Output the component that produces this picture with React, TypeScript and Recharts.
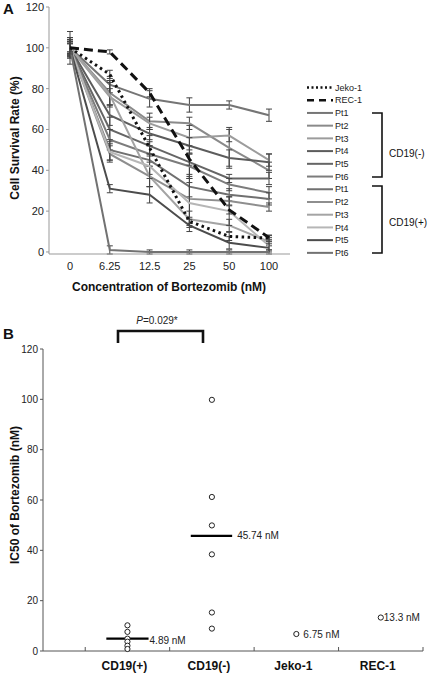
import React from 'react';
import {
  LineChart, Line, XAxis, YAxis, ErrorBar,
  ScatterChart, Scatter, ReferenceLine, ReferenceDot,
} from 'recharts';

// ---------- Panel A data ----------
const concentrations = ['0', '6.25', '12.5', '25', '50', '100'];
const seriesNames = ['Jeko-1', 'REC-1', 'Pt1', 'Pt2', 'Pt3', 'Pt4', 'Pt5', 'Pt6', 'Pt1', 'Pt2', 'Pt3', 'Pt4', 'Pt5', 'Pt6'];

const jeko1 = [100, 87, 51, 15, 7.6, 6.8];
const rec1 = [100, 98, 78, 45.5, 20.6, 7];
const negPt1 = [100, 82, 75, 72, 72, 67];
const negPt2 = [100, 78, 64, 63, 51, 40];
const negPt3 = [100, 76, 63, 56, 57, 45];
const negPt4 = [100, 67, 58, 52, 46, 44];
const negPt5 = [100, 60, 52, 44, 36, 36];
const negPt6 = [100, 55, 48, 42, 33, 29];
const posPt1 = [100, 50, 45, 32, 28, 26];
const posPt2 = [100, 48, 37, 26, 25, 22];
const posPt3 = [100, 77, 37, 16, 13, 5];
const posPt4 = [100, 49, 42, 24, 20, 3];
const posPt5 = [100, 31, 28, 13, 4.5, 2];
const posPt6 = [100, 1, 0, 0, 0, 0];

const errJeko1 = [3, 2, 3, 2, 2, 1.5];
const errRec1 = [2, 1, 2, 3, 2, 1];
const errNegPt1 = [4, 4, 4, 3.5, 2, 3];
const errNegPt2 = [3, 6, 4, 3, 10, 4];
const errNegPt3 = [5, 4, 3, 6, 3, 3];
const errNegPt4 = [3, 5, 3, 4, 4, 4];
const errNegPt5 = [4, 6, 5, 8, 2, 3];
const errNegPt6 = [5, 5, 4, 6, 3, 3];
const errPosPt1 = [4, 5, 7, 5, 3, 3];
const errPosPt2 = [3, 4, 5, 12, 2, 2];
const errPosPt3 = [8, 6, 5, 4, 3, 2];
const errPosPt4 = [3, 4, 6, 10, 7, 2];
const errPosPt5 = [4, 2, 4, 3, 3, 2];
const errPosPt6 = [2, 2, 1, 1, 1, 1];

const survivalSeries = [jeko1, rec1, negPt1, negPt2, negPt3, negPt4, negPt5, negPt6, posPt1, posPt2, posPt3, posPt4, posPt5, posPt6];
const survivalErrors = [errJeko1, errRec1, errNegPt1, errNegPt2, errNegPt3, errNegPt4, errNegPt5, errNegPt6, errPosPt1, errPosPt2, errPosPt3, errPosPt4, errPosPt5, errPosPt6];
const yTicksA = [0, 20, 40, 60, 80, 100, 120];

// ---------- Panel B data ----------
const groupLabels = ['CD19(+)', 'CD19(-)', 'Jeko-1', 'REC-1'];
const cd19PosIC50 = [10.2, 7.6, 4.9, 3.7, 2.1, 0.8];
const cd19NegIC50 = [99.8, 61.2, 49.9, 38.4, 15.3, 8.9];
const jekoIC50 = [6.75];
const recIC50 = [13.3];
const groupMeans = [4.89, 45.74];
const meanLabels = ['4.89 nM', '45.74 nM'];
const cellLineLabels = ['6.75 nM', '13.3 nM'];
const yTicksB = [0, 20, 40, 60, 80, 100, 120];
const pValueText = '=0.029*';

// ---------- styles ----------
const FONT = '"Liberation Sans", Arial, sans-serif';
const lineStyles = [
  { stroke: '#111', width: 3, dash: '2.5 3.5' },
  { stroke: '#111', width: 3, dash: '9 5' },
  { stroke: '#757575', width: 2, dash: undefined },
  { stroke: '#8a8a8a', width: 2, dash: undefined },
  { stroke: '#9c9c9c', width: 2, dash: undefined },
  { stroke: '#5c5c5c', width: 2, dash: undefined },
  { stroke: '#656565', width: 2, dash: undefined },
  { stroke: '#7c7c7c', width: 2, dash: undefined },
  { stroke: '#707070', width: 2, dash: undefined },
  { stroke: '#8e8e8e', width: 2, dash: undefined },
  { stroke: '#a4a4a4', width: 2, dash: undefined },
  { stroke: '#b6b6b6', width: 2, dash: undefined },
  { stroke: '#4c4c4c', width: 2, dash: undefined },
  { stroke: '#727272', width: 2, dash: undefined },
];

const lineData = concentrations.map((c, i) => {
  const row: Record<string, number | string> = { conc: c };
  survivalSeries.forEach((s, k) => {
    row[`s${k}`] = s[i];
    row[`e${k}`] = survivalErrors[k][i];
  });
  return row;
});

const toPoints = (vals: number[], x: number) => vals.map((y) => ({ x, y }));
const scatterGroups = [
  toPoints(cd19PosIC50, 1),
  toPoints(cd19NegIC50, 2),
  toPoints(jekoIC50, 3),
  toPoints(recIC50, 4),
];

const OpenCircle = (props: any) => (
  <circle cx={props.cx} cy={props.cy} r={2.6} fill="#fff" stroke="#222" strokeWidth={1} />
);

const BTick = (props: any) => {
  const { x, y, payload } = props;
  const v = payload.value;
  if (Number.isInteger(v)) {
    return (
      <text x={x - 3} y={y} dy="0.71em" textAnchor="middle" fontSize={12} fontWeight="bold" fill="#111" fontFamily={FONT}>
        {groupLabels[v - 1]}
      </text>
    );
  }
  return <line x1={x} x2={x} y1={y - 10} y2={y - 14} stroke="#555" strokeWidth={1} />;
};

const order = [2, 3, 4, 5, 6, 7, 8, 9, 10, 11, 12, 13, 0, 1];
const legendY0 = 87.5;
const legendStep = 12.72;

export default function App() {
  return (
    <div style={{ position: 'absolute', left: 0, top: 0, width: 438, height: 675, background: '#fff', fontFamily: FONT }}>
      <div style={{ position: 'absolute', left: 0, top: 0 }}>
        <LineChart width={438} height={300} data={lineData} margin={{ top: 7, right: 148, bottom: 16, left: 0 }}>
          <XAxis
            dataKey="conc"
            interval={0}
            tickLine={false}
            padding={{ left: 21, right: 21 }}
            axisLine={{ stroke: '#999' }}
            tick={{ fontSize: 11, fill: '#222', fontFamily: FONT }}
            height={30}
          />
          <YAxis
            domain={[0, 120]}
            ticks={yTicksA}
            width={49}
            tickSize={3}
            tickMargin={2}
            axisLine={{ stroke: '#999' }}
            tickLine={{ stroke: '#999' }}
            tick={{ fontSize: 11, fill: '#222', fontFamily: FONT }}
          />
          {order.map((k) => (
            <Line
              key={k}
              dataKey={`s${k}`}
              stroke={lineStyles[k].stroke}
              strokeWidth={lineStyles[k].width}
              strokeDasharray={lineStyles[k].dash}
              dot={false}
              isAnimationActive={false}
            >
              <ErrorBar dataKey={`e${k}`} width={3} stroke="#444" strokeWidth={1} />
            </Line>
          ))}
        </LineChart>
      </div>

      <div style={{ position: 'absolute', left: 0, top: 300 }}>
        <ScatterChart width={438} height={375} margin={{ top: 49, right: 15, bottom: 0, left: 0 }}>
          <XAxis
            type="number"
            dataKey="x"
            domain={[0, 4.5]}
            ticks={[0.5, 1, 1.5, 2, 2.5, 3, 3.5, 4, 4.5]}
            interval={0}
            tickLine={false}
            tickSize={6}
            tickMargin={4}
            axisLine={{ stroke: '#555' }}
            tick={<BTick />}
            height={24}
          />
          <YAxis
            type="number"
            dataKey="y"
            domain={[0, 120]}
            ticks={yTicksB}
            width={43}
            tickSize={3}
            tickMargin={2}
            axisLine={{ stroke: '#555' }}
            tickLine={{ stroke: '#555' }}
            tick={{ fontSize: 10, fill: '#222', fontFamily: FONT }}
          />
          {scatterGroups.map((g, i) => (
            <Scatter key={i} data={g} shape={<OpenCircle />} isAnimationActive={false} />
          ))}
          <ReferenceLine segment={[{ x: 0.75, y: groupMeans[0] }, { x: 1.25, y: groupMeans[0] }]} stroke="#000" strokeWidth={2.2} />
          <ReferenceLine segment={[{ x: 1.75, y: groupMeans[1] }, { x: 2.24, y: groupMeans[1] }]} stroke="#000" strokeWidth={2.2} />
          <ReferenceDot x={1.25} y={groupMeans[0]} r={0} fill="none" stroke="none"
            label={{ value: meanLabels[0], position: 'right', offset: 1, fontSize: 10, fill: '#222', dy: 2 }} />
          <ReferenceDot x={2.24} y={groupMeans[1]} r={0} fill="none" stroke="none"
            label={{ value: meanLabels[1], position: 'right', offset: 5, fontSize: 10, fill: '#222' }} />
          <ReferenceDot x={3} y={jekoIC50[0]} r={0} fill="none" stroke="none"
            label={{ value: cellLineLabels[0], position: 'right', offset: 7, fontSize: 10, fill: '#222' }} />
          <ReferenceDot x={4} y={recIC50[0]} r={0} fill="none" stroke="none"
            label={{ value: cellLineLabels[1], position: 'right', offset: 3, fontSize: 10, fill: '#222' }} />
        </ScatterChart>
      </div>

      <svg width={438} height={675} style={{ position: 'absolute', left: 0, top: 0, pointerEvents: 'none' }} fontFamily={FONT}>
        <text x={3} y={14} fontSize={15} fontWeight="bold" fill="#111">A</text>
        <text x={3} y={339} fontSize={15} fontWeight="bold" fill="#111">B</text>

        <text x={0} y={0} transform="translate(19,138) rotate(-90)" textAnchor="middle" fontSize={12} fontWeight="bold" fill="#111">
          Cell Survival Rate (%)
        </text>
        <text x={169} y={291} textAnchor="middle" fontSize={12} fontWeight="bold" fill="#111">
          Concentration of Bortezomib (nM)
        </text>
        <text x={0} y={0} transform="translate(19,495) rotate(-90)" textAnchor="middle" fontSize={12} fontWeight="bold" fill="#111">
          IC50 of Bortezomib (nM)
        </text>

        {/* Legend */}
        {seriesNames.map((name, k) => {
          const y = legendY0 + k * legendStep;
          const st = lineStyles[k];
          return (
            <g key={k}>
              <line x1={307} x2={333} y1={y} y2={y} stroke={st.stroke} strokeWidth={k < 2 ? 2.5 : 2} strokeDasharray={k === 0 ? '2 2.5' : k === 1 ? '7 5' : undefined} />
              <text x={335} y={y} dy="0.35em" fontSize={9} fill="#222">{name}</text>
            </g>
          );
        })}
        <path d="M372,113 H382 V177 H372" fill="none" stroke="#111" strokeWidth={1.6} />
        <text x={389} y={153} dy="0.35em" fontSize={10} fill="#111">CD19(-)</text>
        <path d="M372,186 H382 V253 H372" fill="none" stroke="#111" strokeWidth={1.6} />
        <text x={389} y={222} dy="0.35em" fontSize={10} fill="#111">CD19(+)</text>

        {/* P-value bracket */}
        <path d="M118,343 V331 H203 V343" fill="none" stroke="#111" strokeWidth={2.6} />
        <text x={157} y={320} dy="0.35em" textAnchor="middle" fontSize={10} fill="#222">
          <tspan fontStyle="italic">P</tspan>{pValueText}
        </text>
      </svg>
    </div>
  );
}
